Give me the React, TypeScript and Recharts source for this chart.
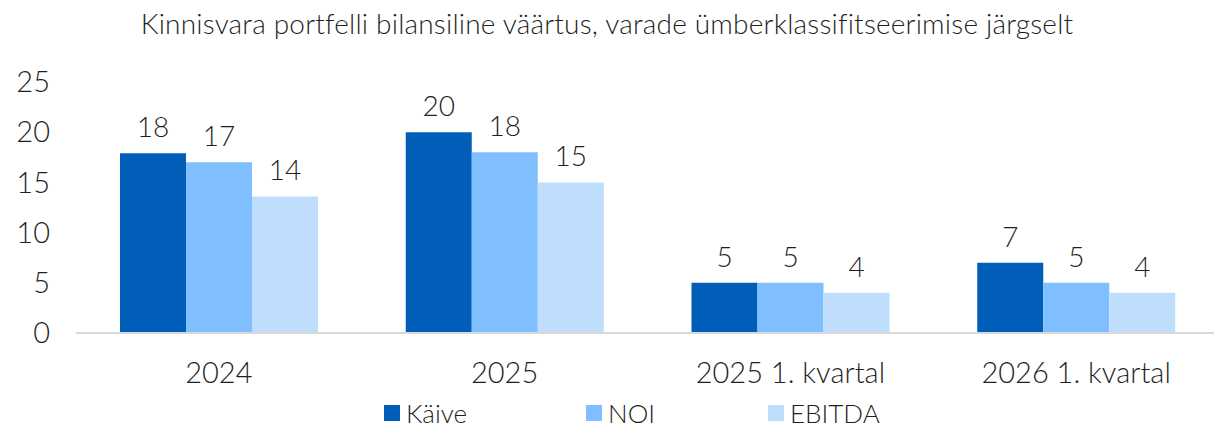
import { Bar, BarChart, LabelList, Legend, XAxis, YAxis } from "recharts";

const categories = ["2024", "2025", "2025 1. kvartal", "2026 1. kvartal"];
const seriesNames = ["Käive", "NOI", "EBITDA"];
const kaive = [17.9, 20.0, 5.0, 7.0];
const noi = [17.0, 18.0, 5.0, 5.0];
const ebitda = [13.6, 15.0, 4.0, 4.0];
const yTicks = [0, 5, 10, 15, 20, 25];

const title = "Kinnisvara portfelli bilansiline väärtus, varade ümberklassifitseerimise järgselt";

const data = categories.map((name, i) => ({
  name,
  kaive: kaive[i],
  noi: noi[i],
  ebitda: ebitda[i],
}));

const font = "Lato, 'Open Sans', sans-serif";
const textColor = "#1f1f1f";
const legendLeft = [384, 586, 768];

function LegendContent(props: any) {
  const items = [...(props.payload || [])].sort(
    (a: any, b: any) => seriesNames.indexOf(a.value) - seriesNames.indexOf(b.value)
  );
  return (
    <div style={{ position: "relative", width: 1214, height: 28 }}>
      {items.map((item: any, i: number) => (
        <div
          key={item.value}
          style={{
            position: "absolute",
            left: legendLeft[i],
            top: -3,
            height: 28,
            lineHeight: "28px",
            display: "flex",
            alignItems: "center",
            fontFamily: font,
            fontWeight: 300,
            fontSize: 26,
            color: textColor,
          }}
        >
          <span
            style={{
              display: "inline-block",
              width: 16,
              height: 16,
              background: item.color,
              marginRight: 6,
            }}
          />
          {item.value}
        </div>
      ))}
    </div>
  );
}

export default function App() {
  const xTick = { fontSize: 29, fill: textColor, fontFamily: font, fontWeight: 300 };
  const yTick = { fontSize: 29, fill: textColor, fontFamily: font, fontWeight: 300 };
  const label = { fontSize: 28, fill: textColor, fontFamily: font, fontWeight: 300 };
  const fmt = (v: any) => Math.round(Number(v));
  return (
    <div
      style={{
        position: "absolute",
        left: 0,
        top: 0,
        width: 1214,
        height: 430,
        background: "#fff",
        overflow: "hidden",
      }}
    >
      <div
        style={{
          position: "absolute",
          left: 0,
          top: 6,
          width: 1214,
          textAlign: "center",
          fontFamily: font,
          fontWeight: 300,
          fontSize: 28,
          letterSpacing: 0.2,
          color: textColor,
          whiteSpace: "nowrap",
        }}
      >
        {title}
      </div>
      <BarChart
        width={1214}
        height={430}
        data={data}
        margin={{ top: 82, right: -5, left: 0, bottom: 0 }}
        barCategoryGap="15.4%"
        barGap={0}
      >
        <XAxis
          dataKey="name"
          tick={xTick}
          tickLine={false}
          tickSize={0}
          tickMargin={29}
          axisLine={{ stroke: "#d9d9d9", strokeWidth: 2 }}
          height={69}
          interval={0}
        />
        <YAxis
          domain={[0, 25]}
          ticks={yTicks}
          tick={yTick}
          tickLine={false}
          tickSize={0}
          tickMargin={26}
          axisLine={false}
          width={76}
        />
        <Legend verticalAlign="bottom" content={<LegendContent />} wrapperStyle={{ left: 0, width: 1214 }} />
        <Bar dataKey="kaive" name="Käive" fill="#005eb8" isAnimationActive={false}>
          <LabelList dataKey="kaive" position="top" offset={16} style={label} formatter={fmt} />
        </Bar>
        <Bar dataKey="noi" name="NOI" fill="#80bfff" isAnimationActive={false}>
          <LabelList dataKey="noi" position="top" offset={16} style={label} formatter={fmt} />
        </Bar>
        <Bar dataKey="ebitda" name="EBITDA" fill="#bfdefd" isAnimationActive={false}>
          <LabelList dataKey="ebitda" position="top" offset={16} style={label} formatter={fmt} />
        </Bar>
      </BarChart>
    </div>
  );
}
